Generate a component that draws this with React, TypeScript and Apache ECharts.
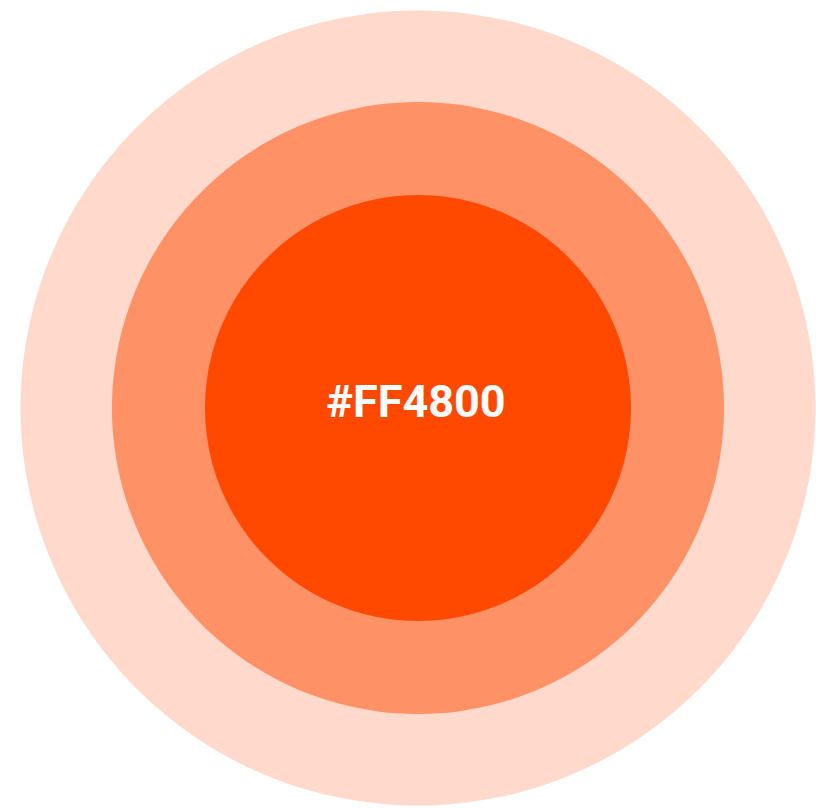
import React, { useEffect, useRef } from "react";
import * as echarts from "echarts";

const levels = ["outer", "middle", "inner"];
const values = [1, 1, 1];
const radii = [397.5, 306, 213];
const colors = ["#FFDACC", "#FF9166", "#FF4800"];
const centerLabel = "#FF4800";

export default function App() {
  const ref = useRef<HTMLDivElement>(null);
  useEffect(() => {
    if (!ref.current) return;
    const chart = echarts.init(ref.current, null, { renderer: "svg" });
    chart.setOption({
      animation: false,
      graphic: [
        {
          type: "text",
          x: 416,
          y: 401,
          z: 100,
          style: {
            text: centerLabel,
            fill: "#ffffff",
            font: "bold 45px Roboto",
            align: "center",
            verticalAlign: "middle",
          },
        },
      ],
      series: levels.map((name, i) => ({
        type: "pie",
        name,
        center: [418, 408],
        radius: [0, radii[i]],
        silent: true,
        z: i + 1,
        label: { show: false },
        labelLine: { show: false },
        itemStyle: { color: colors[i], borderWidth: 0 },
        data: [{ name, value: values[i] }],
      })),
    });
    return () => chart.dispose();
  }, []);
  return (
    <div
      ref={ref}
      style={{ position: "absolute", left: 0, top: 0, width: 816, height: 808 }}
    />
  );
}
